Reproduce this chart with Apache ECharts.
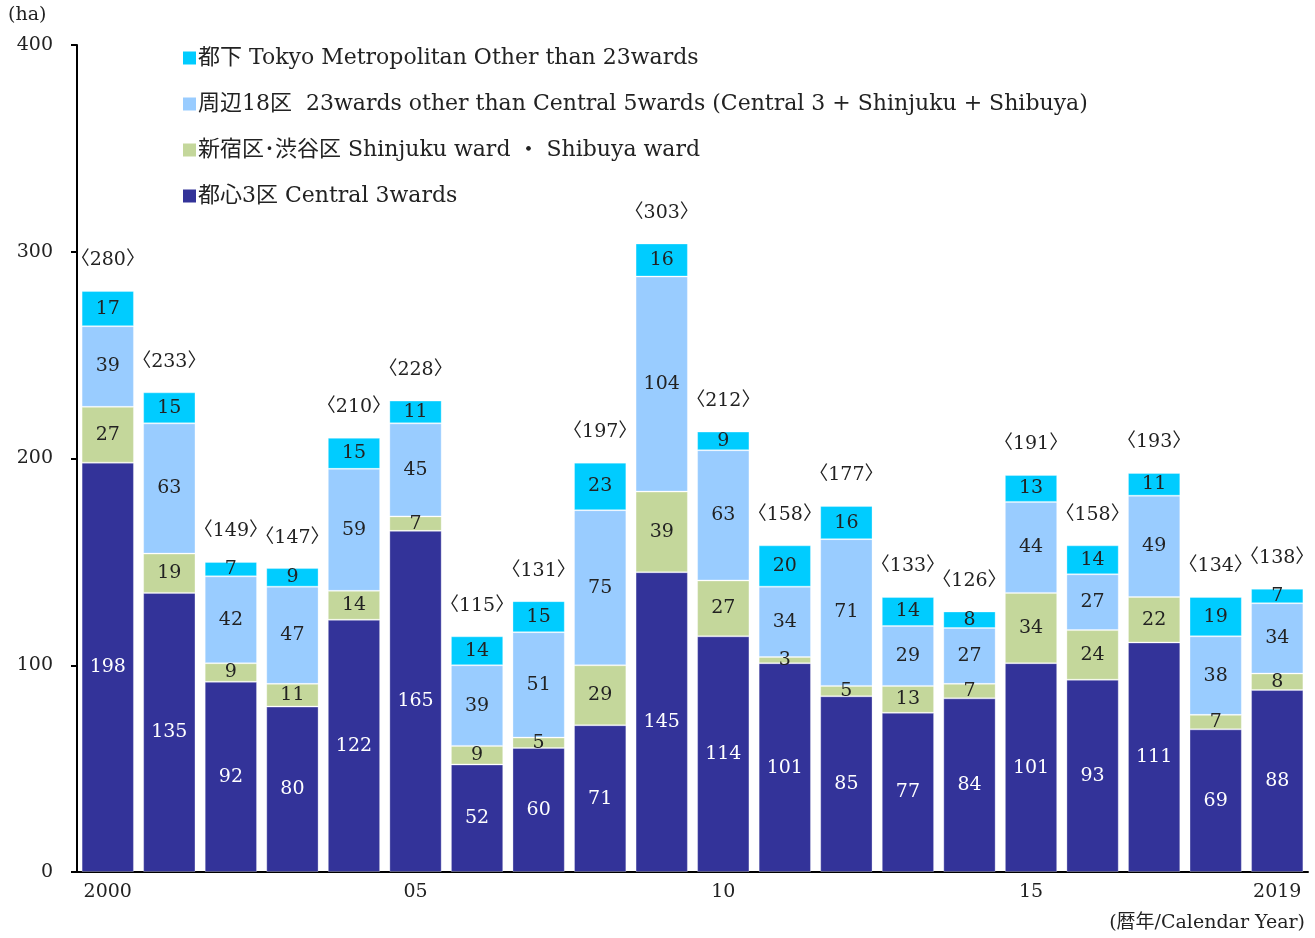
<!DOCTYPE html>
<html>
<head>
<meta charset="utf-8">
<script src="https://cdn.jsdelivr.net/npm/echarts@6/dist/echarts.min.js"></script>
<style>
  html, body { margin: 0; padding: 0; background: #fff; }
  #chart { width: 1315px; height: 938px; }
</style>
</head>
<body>
<div id="chart"></div>
<script>
const years = ['2000', '2001', '2002', '2003', '2004', '2005', '2006', '2007', '2008', '2009',
  '2010', '2011', '2012', '2013', '2014', '2015', '2016', '2017', '2018', '2019']
const yearLabels = { 0: '2000', 5: '05', 10: '10', 15: '15', 19: '2019' }

const central3 = [198, 135, 92, 80, 122, 165, 52, 60, 71, 145, 114, 101, 85, 77, 84, 101, 93, 111, 69, 88]
const shinjukuShibuya = [27, 19, 9, 11, 14, 7, 9, 5, 29, 39, 27, 3, 5, 13, 7, 34, 24, 22, 7, 8]
const other18 = [39, 63, 42, 47, 59, 45, 39, 51, 75, 104, 63, 34, 71, 29, 27, 44, 27, 49, 38, 34]
const tokyoOther = [17, 15, 7, 9, 15, 11, 14, 15, 23, 16, 9, 20, 16, 14, 8, 13, 14, 11, 19, 7]
const totals = [280, 233, 149, 147, 210, 228, 115, 131, 197, 303, 212, 158, 177, 133, 126, 191, 158, 193, 134, 138]

const names = {
  tokyo: '都下 Tokyo Metropolitan Other than 23wards',
  other: '周辺18区  23wards other than Central 5wards (Central 3 + Shinjuku + Shibuya)',
  shin: '新宿区･渋谷区 Shinjuku ward ・ Shibuya ward',
  central: '都心3区 Central 3wards'
}

const FONT = '"DejaVu Serif", "Liberation Serif", "Noto Sans CJK JP", serif'

const chart = echarts.init(document.getElementById('chart'))

const segment = (name, data, color, textColor) => ({
  name,
  type: 'bar',
  stack: 'total',
  barCategoryGap: '15%',
  data,
  itemStyle: { color, borderColor: 'rgba(255,255,255,0.3)', borderWidth: 1 },
  label: {
    show: true,
    position: 'inside',
    color: textColor,
    fontSize: 19,
    fontFamily: FONT
  }
})

const option = {
  animation: false,
  textStyle: { fontFamily: FONT },
  grid: { left: 77, right: 7, top: 45, bottom: 66 },
  legend: {
    data: [names.tokyo, names.other, names.shin, names.central],
    orient: 'vertical',
    left: 178,
    top: 42,
    icon: 'rect',
    itemWidth: 13,
    itemHeight: 13,
    itemGap: 24,
    itemStyle: { borderWidth: 0 },
    textStyle: { fontSize: 22, color: '#222', fontFamily: FONT, padding: [0, 0, 0, -3] }
  },
  graphic: [
    { type: 'text', left: 8, top: 6, style: { text: '(ha)', fontSize: 19, fontFamily: FONT, fill: '#222' } },
    { type: 'text', right: 10, top: 914, style: { text: '(暦年/Calendar Year)', fontSize: 19, fontFamily: FONT, fill: '#222' } }
  ],
  xAxis: {
    type: 'category',
    data: years,
    axisLine: { lineStyle: { color: '#000', width: 2 } },
    axisTick: { show: false },
    axisLabel: {
      interval: 0,
      margin: 11,
      fontSize: 19,
      color: '#222',
      fontFamily: FONT,
      formatter: (v, i) => yearLabels[i] || ''
    }
  },
  yAxis: {
    type: 'value',
    min: 0,
    max: 400,
    interval: 100,
    splitLine: { show: false },
    axisLine: { show: true, lineStyle: { color: '#000', width: 2 } },
    axisTick: { show: true, length: 6, lineStyle: { color: '#000', width: 2 } },
    axisLabel: { fontSize: 19, color: '#222', margin: 24, fontFamily: FONT }
  },
  series: [
    segment(names.central, central3, '#333399', '#fff'),
    segment(names.shin, shinjukuShibuya, '#c4d79b', '#222'),
    segment(names.other, other18, '#99ccff', '#222'),
    segment(names.tokyo, tokyoOther, '#00ccff', '#222'),
    {
      name: 'total',
      type: 'bar',
      stack: 'total',
      data: totals.map(() => 0),
      itemStyle: { color: 'transparent' },
      label: {
        show: true,
        position: 'top',
        distance: 21,
        fontSize: 19,
        color: '#222',
        fontFamily: FONT,
        formatter: (p) => '〈' + totals[p.dataIndex] + '〉'
      }
    }
  ]
}

chart.setOption(option)
</script>
</body>
</html>
